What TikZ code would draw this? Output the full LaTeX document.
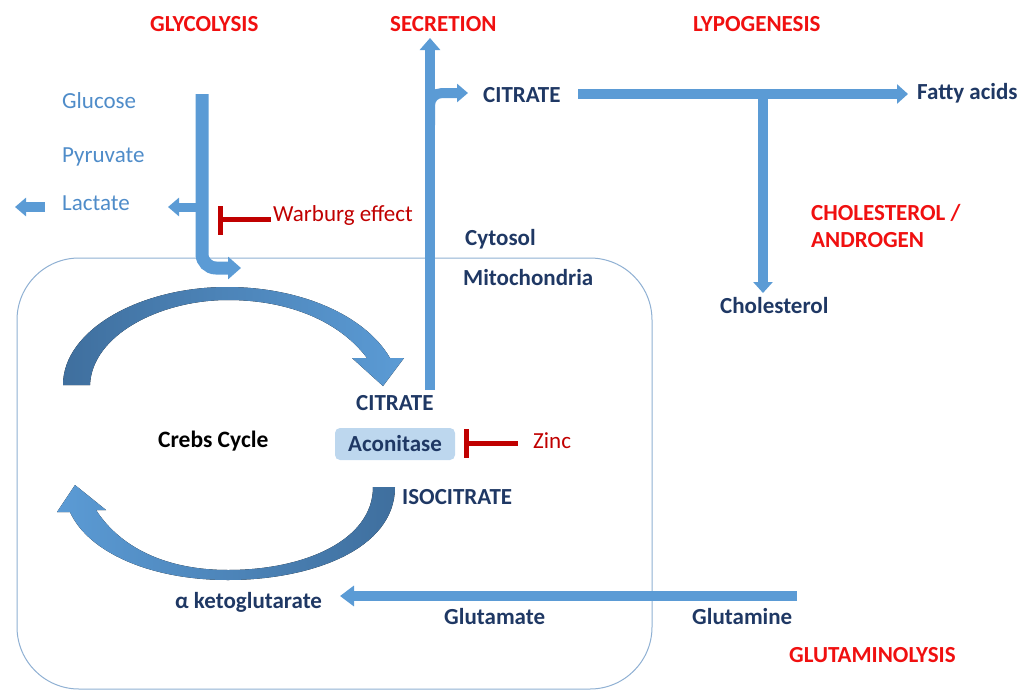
\documentclass[tikz,border=0pt]{standalone}
\usepackage{fontspec}
\setmainfont{Carlito}
\usetikzlibrary{arrows.meta}
\definecolor{arrowblue}{HTML}{5B9BD5}
\definecolor{shadeblue}{HTML}{3F6F9E}
\definecolor{navy}{HTML}{1F3864}
\definecolor{txtblue}{HTML}{4F8CC9}
\definecolor{titlered}{HTML}{F01010}
\definecolor{darkred}{HTML}{C00000}
\definecolor{boxline}{HTML}{8FB0D3}
\definecolor{aconfill}{HTML}{BDD7EE}
\begin{document}
\begin{tikzpicture}[x=1pt,y=-1pt,
  lbl/.style={inner sep=0pt, anchor=base west, font=\fontsize{23}{27}\selectfont},
  title/.style={lbl, text=titlered, font=\fontsize{23}{27}\selectfont\bfseries},
  dark/.style={lbl, text=navy, font=\fontsize{23}{27}\selectfont\bfseries},
  light/.style={lbl, text=txtblue},
  inhib/.style={lbl, text=darkred},
  flow/.style={draw=arrowblue, line width=10pt},
  flowtip/.style={-{Triangle[width=20pt,length=12pt]}},
  smalltip/.style={-{Triangle[width=18pt,length=11pt]}},
  block/.style={draw=darkred, line width=5pt}]
\useasboundingbox (0,0) rectangle (1023,691);

% mitochondria compartment
\draw[boxline, line width=1pt, rounded corners=62pt] (17,258) rectangle (652,689);

% titles
\node[title] (glyc) at (150,31) {GLYCOLYSIS};
\node[title] (secr) at (390,31) {SECRETION};
\node[title] (lypo) at (693,31) {LYPOGENESIS};
\node[title] (chol1) at (811,220) {CHOLESTEROL /};
\node[title] (chol2) at (811,247) {ANDROGEN};
\node[title] (glutam) at (789,662) {GLUTAMINOLYSIS};

% glycolysis labels
\node[light] (glucose) at (62,108) {Glucose};
\node[light] (pyruvate) at (62,162) {Pyruvate};
\node[light] (lactate) at (62,210) {Lactate};
\node[inhib] (warburg) at (273,221) {Warburg effect};

% compartments
\node[dark] (cytosol) at (465,245) {Cytosol};
\node[dark] (mito) at (463,285) {Mitochondria};

% metabolites
\node[dark] (citrateTop) at (483,102) {CITRATE};
\node[dark] (fatty) at (917,99) {Fatty acids};
\node[dark] (cholesterol) at (720,313) {Cholesterol};
\node[dark] (citrateM) at (356,410) {CITRATE};
\node[dark] (isocit) at (402,504) {ISOCITRATE};
\node[lbl, font=\fontsize{23.5}{27}\selectfont\bfseries, text=black] (crebs) at (158,447) {Crebs Cycle};
\node[dark] (akg) at (175,608) {α ketoglutarate};
\node[dark] (glutamate) at (444,624) {Glutamate};
\node[dark] (glutamine) at (692,624) {Glutamine};
\node[inhib] (zinc) at (533,448) {Zinc};

% aconitase box
\node[fill=aconfill, rounded corners=5pt, minimum width=120pt, minimum height=32pt, inner sep=0pt,
      text=navy, font=\fontsize{23}{27}\selectfont\bfseries] (acon) at (395,444) {Aconitase};

% glycolysis flow
\coordinate (gTop) at (202,94);
\coordinate (gEnd) at (241,268);
\draw[flow, line width=13pt, rounded corners=14pt, -{Triangle[width=22pt,length=13pt]}] (gTop) |- (gEnd);
\coordinate (lacFrom) at (197,207);
\coordinate (lacTo) at (168,207);
\draw[flow, line width=9pt, smalltip] (lacFrom) -- (lacTo);
\coordinate (lac2From) at (45,207);
\coordinate (lac2To) at (15,207);
\draw[flow, line width=10pt, smalltip] (lac2From) -- (lac2To);

% Warburg inhibition
\coordinate (wbTop) at (220,206);
\coordinate (wbBot) at (220,235);
\coordinate (wbMid) at (220,219);
\coordinate (wbEnd) at (271,219);
\draw[block] (wbTop) -- (wbBot);
\draw[block] (wbMid) -- (wbEnd);

% secretion
\coordinate (sBot) at (430,390);
\coordinate (sTop) at (430,38);
\draw[flow, flowtip] (sBot) -- (sTop);
\coordinate (sBr) at (430,125);
\coordinate (sBrEnd) at (468,93);
\draw[flow, rounded corners=12pt, -{Triangle[width=18pt,length=11pt]}] (sBr) |- (sBrEnd);

% lipogenesis
\coordinate (lStart) at (578,94);
\coordinate (lEnd) at (908,94);
\coordinate (lBr) at (763,94);
\coordinate (lDown) at (763,293);
\draw[flow, -{Triangle[width=19pt,length=11pt]}] (lStart) -- (lEnd);
\draw[flow, -{Triangle[width=19pt,length=11pt]}] (lBr) -- (lDown);

% glutaminolysis
\coordinate (gqStart) at (797,596);
\coordinate (gqEnd) at (340,596);
\draw[flow, -{Triangle[width=20pt,length=14pt]}] (gqStart) -- (gqEnd);

% Zinc inhibition
\coordinate (znTop) at (466,429);
\coordinate (znBot) at (466,458);
\coordinate (znMid) at (466,443);
\coordinate (znEnd) at (518,443);
\draw[block] (znTop) -- (znBot);
\draw[block] (znMid) -- (znEnd);

% Krebs cycle upper curved arrow
\fill[left color=shadeblue, right color=arrowblue]
  (63,385) .. controls (63,330) and (140,287) .. (227,287)
  .. controls (300,287) and (365,315) .. (390,358)
  -- (404,358) -- (383,386) -- (352,358) -- (367,358)
  .. controls (340,322) and (290,300) .. (228,300)
  .. controls (160,300) and (92,335) .. (90,385) -- cycle;

% Krebs cycle lower curved arrow
\fill[left color=arrowblue, right color=shadeblue]
  (373,487) -- (395,487)
  .. controls (395,550) and (310,580) .. (228,580)
  .. controls (150,580) and (88,552) .. (70,512)
  -- (57,512) -- (75,485) -- (106,510) -- (96,510)
  .. controls (120,547) and (165,570) .. (228,570)
  .. controls (305,570) and (373,540) .. (373,487) -- cycle;
\end{tikzpicture}
\end{document}
